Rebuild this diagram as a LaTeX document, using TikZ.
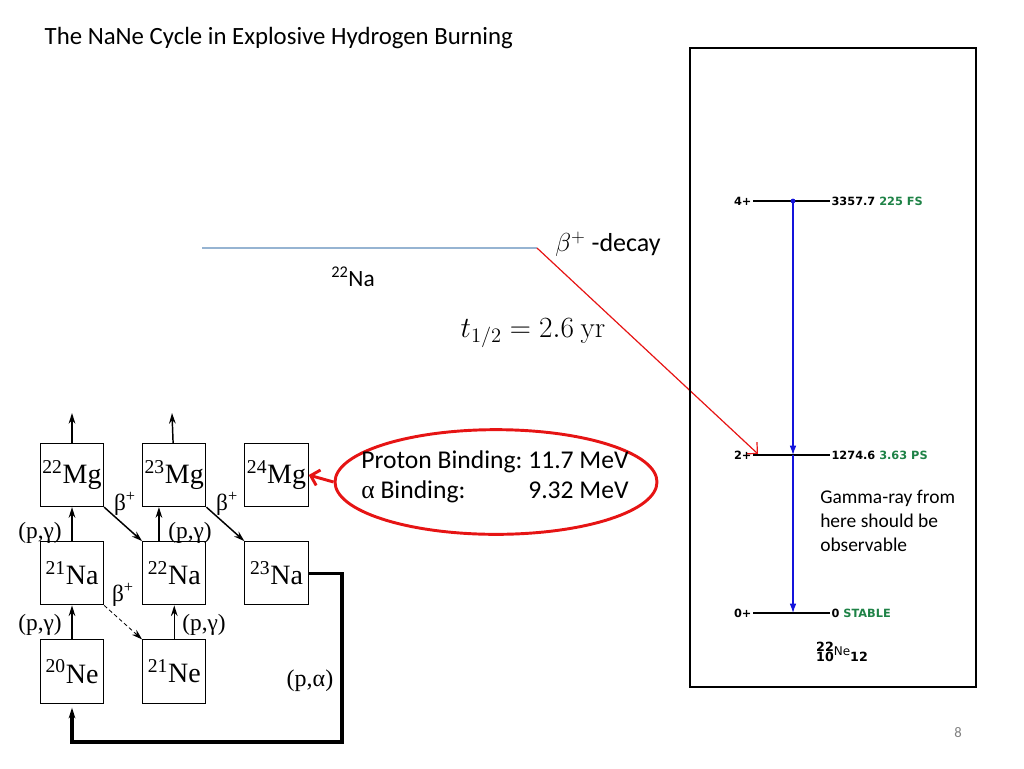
\documentclass[tikz,border=0pt]{standalone}
\usepackage{fix-cm}
\usepackage[no-math]{fontspec}
\setmainfont{Carlito}
\newfontfamily\netfont{Liberation Serif}
\newfontfamily\lvlfont{DejaVu Sans}
\usetikzlibrary{positioning,shapes.geometric,arrows.meta}
\definecolor{lvlgreen}{RGB}{30,130,70}
\definecolor{naline}{RGB}{150,180,210}
\definecolor{decayred}{RGB}{230,20,20}
\definecolor{gammablue}{RGB}{20,20,220}

\begin{document}
\begin{tikzpicture}[x=0.75pt,y=-0.75pt,>={Stealth[length=8pt,width=5pt]}]
    \tikzset{nuc/.style={draw, line width=0.7pt, minimum size=47.5pt, inner sep=0pt, font=\netfont\fontsize{21}{21}\selectfont},
             react/.style={inner sep=0pt, font=\netfont\fontsize{17.5}{17.5}\selectfont},
             flow/.style={->, line width=1.1pt},
             lvl/.style={line width=1.5pt},
             lvltxt/.style={inner sep=1pt, font=\lvlfont\bfseries\fontsize{8.5}{9}\selectfont}}
    \useasboundingbox (0,0) rectangle (1024,768);

    \node[anchor=west, font=\fontsize{18.6}{18.6}\selectfont] (title) at (40,38) {The NaNe Cycle in Explosive Hydrogen Burning};

    % network
    \node[nuc] (mg22) at (72,475) {\textsuperscript{22}Mg};
    \node[nuc, right=28.5pt of mg22] (mg23) {\textsuperscript{23}Mg};
    \node[nuc, right=28.5pt of mg23] (mg24) {\textsuperscript{24}Mg};
    \node[nuc, below=25.5pt of mg22] (na21) {\textsuperscript{21}Na};
    \node[nuc, below=25.5pt of mg23] (na22) {\textsuperscript{22}Na};
    \node[nuc, below=25.5pt of mg24] (na23) {\textsuperscript{23}Na};
    \node[nuc, below=25.5pt of na21] (ne20) {\textsuperscript{20}Ne};
    \node[nuc, below=25.5pt of na22] (ne21) {\textsuperscript{21}Ne};
    \coordinate (out22) at (72,413);
    \coordinate (out23) at (172,413);
    \coordinate (back) at (342,742);
    \draw[flow] (mg22) -- (out22);
    \draw[flow] (mg23) -- (out23);
    \draw[flow] (na21) -- (mg22);
    \draw[flow] (ne20) -- (na21);
    \draw[flow] (ne21) -- (na22);
    \draw[flow] ([xshift=-11.5pt]na22.north) -- ([xshift=-11.5pt]mg23.south);
    \draw[flow] (mg22.south east) -- (na22.north west);
    \draw[flow] (mg23.south east) -- (na23.north west);
    \draw[->, densely dashed, line width=0.6pt] (na21.south east) -- (ne21.north west);
    \draw[->, line width=2.6pt, shorten >=3pt] (na23.east) -| (back) -| (ne20.south);
    \node[react] (pg1) at (40,533) {(p,γ)};
    \node[react] (pg2) at (190,533) {(p,γ)};
    \node[react] (pg3) at (40,625) {(p,γ)};
    \node[react] (pg4) at (204,625) {(p,γ)};
    \node[react] (b1) at (125,504) {β\textsuperscript{+}};
    \node[react] (b2) at (227,504) {β\textsuperscript{+}};
    \node[react] (b3) at (123,595) {β\textsuperscript{+}};
    \node[react, font=\netfont\fontsize{18}{18}\selectfont] (pa) at (310,681) {(p,α)};

    % binding energies
    \node[draw=decayred, line width=2.2pt, ellipse, minimum width=241.5pt, minimum height=78.5pt] (bind) at (496,482) {};
    \node[font=\fontsize{19.2}{22.5}\selectfont, inner sep=0pt] (bindtxt) at (495,477)
        {\begin{tabular}{@{}l@{\ }r@{}}Proton Binding: & 11.7 MeV\\ {\netfont α} Binding: & 9.32 MeV\end{tabular}};
    \draw[-{Straight Barb[length=6pt]}, decayred, line width=2.2pt] (bind.west) -- (mg24.east);

    % 22Na decay
    \coordinate (na0) at (202,248);
    \coordinate (na1) at (537,248);
    \coordinate (feed) at (758,454);
    \draw[naline, line width=1.2pt] (na0) -- (na1);
    \draw[-{Straight Barb[length=6pt]}, decayred, line width=0.9pt] (na1) -- (feed);
    \node[font=\fontsize{17.5}{17.5}\selectfont] (naname) at (353,277) {\textsuperscript{22}Na};
    \node[font=\fontsize{19.5}{19.5}\selectfont] (decay) at (608,244) {$\beta^+$ -decay};
    \node[font=\fontsize{22}{22}\selectfont] (thalf) at (533,333) {$t_{1/2} = 2.6\ \mathrm{yr}$};

    % level scheme
    \draw[line width=1.6pt] (690,48) rectangle (976,687);
    \node[lvltxt, anchor=east] (s4) at (753,201) {4+};
    \node[lvltxt, anchor=west] (e4) at (830,201) {3357.7 \textcolor{lvlgreen}{225 FS}};
    \node[lvltxt, anchor=east] (s2) at (753,455) {2+};
    \node[lvltxt, anchor=west] (e2) at (830,455) {1274.6 \textcolor{lvlgreen}{3.63 PS}};
    \node[lvltxt, anchor=east] (s0) at (753,613) {0+};
    \node[lvltxt, anchor=west] (e0) at (830,613) {0 \textcolor{lvlgreen}{STABLE}};
    \draw[lvl] (s4) -- (e4);
    \draw[lvl] (s2) -- (e2);
    \draw[lvl] (s0) -- (e0);
    \coordinate (g4) at (793,201);
    \coordinate (g2) at (793,455);
    \coordinate (g0) at (793,613);
    \fill[gammablue] (g4) circle (1.8pt);
    \draw[-{Latex[length=7pt,width=5pt]}, gammablue, line width=0.8pt] (g4) -- (g2);
    \draw[-{Latex[length=7pt,width=5pt]}, gammablue, line width=0.8pt] (g2) -- (g0);
    \node[anchor=north west, align=left, font=\fontsize{14.6}{18}\selectfont, inner sep=0pt] (gnote) at (820,490)
        {Gamma-ray from\\here should be\\observable};
    \node[lvltxt, font=\lvlfont\bfseries\fontsize{9.5}{9}\selectfont] (nuclide) at (842,652)
        {\shortstack[r]{22\\[-2pt]10}\raisebox{4.5pt}{\mdseries\fontsize{9}{9}\selectfont Ne}12};

    \node[text=gray, font=\fontsize{11}{11}\selectfont] (page) at (958,733) {8};
\end{tikzpicture}
\end{document}
